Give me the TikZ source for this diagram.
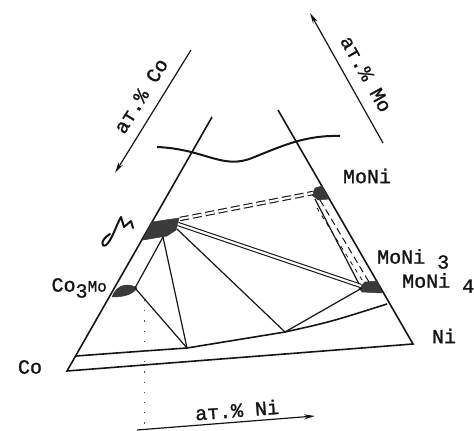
\documentclass[tikz,border=0pt]{standalone}
\usepackage{fontspec}
\newfontfamily\labfont[FakeBold=1.3]{Liberation Mono}
\usepackage{xcolor}
\definecolor{phgray}{HTML}{3A3A3A}
\definecolor{phink}{HTML}{151515}
\usetikzlibrary{arrows.meta,calc}

\begin{document}
\begin{tikzpicture}[x=1pt,y=-1pt,>={Stealth[length=11pt,width=5pt]}]
\tikzset{
 side/.style={draw=phink,line width=1.6pt},
 tie/.style={draw=phink,line width=1.2pt},
 blob/.style={fill=phgray,draw=phgray,line width=0.5pt},
 axis/.style={->,draw=phink,line width=1.2pt},
 lab/.style={font=\labfont\fontsize{20}{22}\selectfont,text=phink,inner sep=0pt}
}
\useasboundingbox (0,0) rectangle (474,431);
\coordinate (Co) at (67,371);
\coordinate (Ni) at (413,344);
\coordinate (lefttop) at (212,117);
\coordinate (righttop) at (278,110);
\coordinate (sol0) at (76,356);
\coordinate (v1) at (187,348);
\coordinate (v2) at (285,332);
\coordinate (sol1) at (387,304);
\coordinate (sigma) at (163,237);
\coordinate (sigmar) at (177,229);
\coordinate (cothree) at (135,288);
\coordinate (moni) at (313,193);
\coordinate (monifour) at (362,288);

\draw[side] (lefttop) -- (Co) -- (Ni) -- (righttop);
\draw[side] (sol0) .. controls (130,352) .. (v1) -- (v2) .. controls (330,322) .. (sol1);
\draw[phink,line width=2pt] (157,147) .. controls (205,149) and (222,170) .. (252,158)
  .. controls (282,146) and (305,135) .. (340,136);

\fill[blob] (143,240) -- (152,222) -- (179,218) -- (176,230) -- (167,236) -- cycle;
\fill[blob] (112,297) .. controls (116,285) and (128,282) .. (137,288) .. controls (132,296) and (120,297) .. (112,297);
\fill[blob] (312,195) -- (315,188) -- (322,186) -- (329,199) -- (318,200) -- cycle;
\fill[blob] (359,288) -- (365,282) -- (377,281) -- (382,293) -- (362,292) -- cycle;

\draw[tie] (sigma) -- (cothree);
\draw[tie] (sigma) -- (v1);
\draw[tie] (cothree) -- (v1);
\draw[tie] (sigmar) -- (v2);
\draw[tie] (v2) -- (monifour);
\draw[phink,line width=1.1pt,double=white,double distance=2.2pt] (178,224) -- (361,286);
\draw[phink,line width=1.1pt,double=white,double distance=2.2pt,dash pattern=on 9pt off 4pt] (180,219) -- (moni);
\draw[tie] (315,199) -- (359,284);
\draw[phink,line width=1pt,dash pattern=on 7pt off 4pt] (320,200) -- (369,282);
\draw[phink,line width=0.8pt,dash pattern=on 4pt off 5pt] (317,208) -- (362,280);

\draw[black!70,line width=1pt,dash pattern=on 1.2pt off 9pt] (144,300) -- (144,428);

\coordinate (coarr0) at (191,50);
\coordinate (coarr1) at (115,173);
\coordinate (moarr0) at (383,143);
\coordinate (moarr1) at (310,13);
\coordinate (niarr0) at (137,430);
\coordinate (niarr1) at (315,416);
\draw[axis] (coarr0) -- (coarr1);
\draw[axis] (moarr0) -- (moarr1);
\draw[axis] (niarr0) -- (niarr1);
\node[lab,rotate=58] (colab) at (141,96) {ат.\% Co};
\node[lab,rotate=-60.6] (molab) at (366,74) {ат.\% Mo};
\node[lab,rotate=4.5] (nilab) at (237,410) {ат.\% Ni};

\node[lab] (monitext) at (367,176) {MoNi};
\node[lab,anchor=west] (monithree) at (377,259) {MoNi\raisebox{-5pt}{ 3}};
\node[lab,anchor=west] (monifourtext) at (402,283) {MoNi\raisebox{-5pt}{ 4}};
\node[lab] (nitext) at (444,336) {Ni};
\node[lab] (cotext) at (30,367) {Co};
\node[lab,anchor=east] (cothreetext) at (107,288) {Co\raisebox{-6pt}{3}{\fontsize{16}{18}\selectfont Mo}};
\draw[phink,line width=2pt,line cap=round,line join=round] (110,234) .. controls (100,240) and (101,248) .. (106,245)
  .. controls (112,240) and (115,228) .. (121,217) -- (124,227) -- (131,221) -- (133,228);
\end{tikzpicture}
\end{document}
